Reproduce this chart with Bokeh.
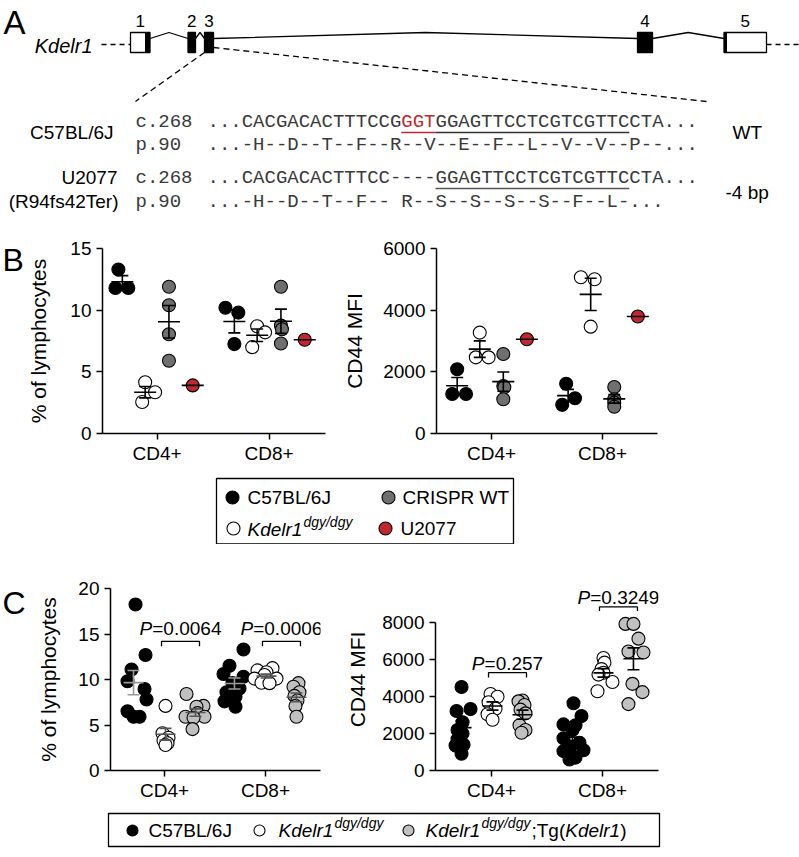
import numpy as np
from bokeh.plotting import figure
from bokeh.models import Range1d, FixedTicker
from bokeh.layouts import column, row
from bokeh.embed import file_html
from bokeh.resources import INLINE
from bokeh.core.properties import value

# ======================= DATA =======================
cell_types = ["CD4+", "CD8+"]

# Panel B, left: % of lymphocytes
b_pct_c57_cd4 = [13.3, 11.8, 11.8]
b_pct_c57_cd8 = [10.2, 9.8, 7.25]
b_pct_ko_cd4 = [4.15, 3.35, 2.55]
b_pct_ko_cd8 = [8.7, 8.2, 7.0]
b_pct_crispr_cd4 = [11.9, 10.4, 8.05, 5.9]
b_pct_crispr_cd8 = [11.9, 8.75, 8.45, 7.3]
b_pct_u2077_cd4 = [3.9]
b_pct_u2077_cd8 = [7.6]

# Panel B, right: CD44 MFI
b_mfi_c57_cd4 = [2085, 1283, 1283]
b_mfi_c57_cd8 = [1615, 1145, 930]
b_mfi_ko_cd4 = [3272, 2470, 2470]
b_mfi_ko_cd8 = [5069, 5005, 3465]
b_mfi_crispr_cd4 = [2580, 1540, 1500, 1110]
b_mfi_crispr_cd8 = [1510, 1110, 1000, 870]
b_mfi_u2077_cd4 = [3058]
b_mfi_u2077_cd8 = [3796]

# Panel C, left: % of lymphocytes
c_pct_c57_cd4 = [18.25, 12.7, 11.1, 9.8, 8.96, 7.8, 6.5, 5.9, 5.9]
c_pct_c57_cd8 = [13.3, 11.5, 10.6, 10.3, 9.6, 9.0, 8.6, 8.1, 7.6, 7.0]
c_pct_ko_cd4 = [7.1, 4.1, 3.6, 3.3, 3.0, 2.8]
c_pct_ko_cd8 = [11.25, 11.0, 10.8, 10.5, 10.1, 10.1, 9.65, 9.6]
c_pct_tg_cd4 = [8.4, 7.1, 7.0, 6.3, 5.9, 5.9, 5.8, 4.55]
c_pct_tg_cd8 = [9.6, 9.2, 8.6, 8.2, 7.7, 7.1, 5.9]

# Panel C, right: CD44 MFI
c_mfi_c57_cd4 = [4530, 3330, 3230, 2620, 2200, 2000, 1700, 1400, 1350, 910]
c_mfi_c57_cd8 = [3650, 2950, 2500, 2450, 2200, 1750, 1500, 1300, 1100, 1050, 700, 600]
c_mfi_ko_cd4 = [4150, 4000, 3700, 3350, 3050, 2750]
c_mfi_ko_cd8 = [6100, 5850, 5500, 5300, 5200, 4800, 4300]
c_mfi_tg_cd4 = [3800, 3750, 3550, 3300, 3100, 2450, 2200, 2050]
c_mfi_tg_cd8 = [7950, 7950, 7150, 6450, 6400, 4700, 4250, 3600]

# P values (Kdelr1 dgy/dgy vs Kdelr1 dgy/dgy;Tg)
c_pct_pvals = ["0.0064", "0.0006"]
c_mfi_pvals = ["0.257", "0.3249"]

# axis ticks
b_pct_ticks = [0, 5, 10, 15]
b_mfi_ticks = [0, 2000, 4000, 6000]
c_pct_ticks = [0, 5, 10, 15, 20]
c_mfi_ticks = [0, 2000, 4000, 6000, 8000]

# sequences (panel A)
seq_wt_pre = "...CACGACACTTTCCG"
seq_wt_del = "GGT"
seq_wt_post = "GGAGTTCCTCGTCGTTCCTA..."
prot_wt = "...-H--D--T--F--R--V--E--F--L--V--V--P--..."
seq_mut = "...CACGACACTTTCC----GGAGTTCCTCGTCGTTCCTA..."
prot_mut = "...-H--D--T--F--    R--S--S--S--S--F--L-..."

# ======================= STYLE / LAYOUT =======================
FONT = "Liberation Sans"
MONO = "Liberation Mono"
BLACK, WHITE, DGREY, RED, LGREY = "#000000", "#ffffff", "#6f6f6f", "#c1272d", "#c0c0c0"

# point spread within a group (screen px)
jit_b_pct = {"c57": ([-4, -7, 6], [-9, 4, 0]), "ko": ([0, 10, -3], [0, 8, -5]),
             "crispr": ([0, 0, 0, 0], [0, 0, 1, 0]), "u": ([0], [0])}
jit_b_mfi = {"c57": ([0, -5, 9], [-2, 7, -6]), "ko": ([0, -4, 9], [-10, 4, 0]),
             "crispr": ([0, 0, 1, 0], [0, 0, 0, 0]), "u": ([0], [0])}
jit_c_pct = {"c57": ([2, 12, -2, -6, 11, 13, -6, 0, 6], [9, -5, -11, 9, -2, 5, -8, 1, -10, 1]),
             "ko": ([0, -3, 3, -2, 2, 0], [6, -9, 0, -2, 10, -12, -5, 3]),
             "tg": ([-9, 8, 1, 2, -10, 9, -2, -3], [2, -3, 3, -2, 1, -1, 0])}
jit_c_mfi = {"c57": ([0, 9, -5, 1, -4, 1, -4, 2, -6, 0], [1, 9, -9, 3, 0, -9, 7, -2, 11, -9, 3, -3]),
             "ko": ([-2, 5, -4, 3, -5, 0], [0, 1, -2, 0, -5, 9, -6]),
             "tg": ([0, -4, 2, -2, 3, -3, 3, -1], [-8, 0, 5, -5, 10, -1, 9, -5])}

AW = {' ': 278, '(': 333, ')': 333, '/': 278, ';': 278, '=': 584, '.': 278, '+': 584, '-': 333,
      '%': 889, 'A': 667, 'B': 667, 'C': 722, 'D': 722, 'F': 611, 'I': 278, 'J': 500, 'K': 667,
      'L': 556, 'M': 833, 'P': 667, 'R': 722, 'S': 667, 'T': 611, 'U': 722, 'W': 944, 'a': 556,
      'b': 556, 'c': 500, 'd': 556, 'e': 556, 'f': 278, 'g': 556, 'h': 556, 'l': 222, 'm': 833,
      'o': 556, 'p': 556, 'r': 333, 's': 500, 't': 278, 'y': 500}


def tw(s, size):
    return sum(AW.get(ch, 556) for ch in s) * size / 1000.0


def txt(p, x, y, s, size=19, font=FONT, style="normal", align="left", color="black",
        baseline="middle", x_offset=0):
    p.text(x=[x], y=[y], text=[s], text_font=value(font), text_font_size=f"{size}px",
           text_font_style=style, text_align=align, text_baseline=baseline,
           text_color=color, x_offset=x_offset)


def canvas(x0, x1, ytop, ybot):
    p = figure(width=x1 - x0, height=ybot - ytop, x_range=Range1d(x0, x1),
               y_range=Range1d(ybot, ytop), output_backend="svg", toolbar_location=None,
               x_axis_location=None, y_axis_location=None,
               min_border_left=0, min_border_right=0, min_border_top=0, min_border_bottom=0)
    p.grid.visible = False
    p.outline_line_color = None
    return p


def make_plot(width, height, bl, br, bt, bb, xr, yr, yticks, ylabel, lab_standoff):
    p = figure(width=width, height=height, x_range=Range1d(*xr), y_range=Range1d(*yr),
               output_backend="svg", toolbar_location=None,
               min_border_left=bl, min_border_right=br, min_border_top=bt, min_border_bottom=bb)
    p.grid.visible = False
    p.outline_line_color = None
    p.xaxis.ticker = FixedTicker(ticks=[1, 2])
    p.xaxis.major_label_overrides = {1: cell_types[0], 2: cell_types[1]}
    p.yaxis.ticker = FixedTicker(ticks=yticks)
    p.yaxis.bounds = (0, yticks[-1])
    for ax in (p.xaxis, p.yaxis):
        ax.axis_line_width = 1.5
        ax.major_tick_line_width = 1.5
        ax.major_tick_out = 6
        ax.major_tick_in = 0
        ax.minor_tick_line_color = None
        ax.major_label_text_font = FONT
        ax.major_label_text_font_size = "19px"
        ax.major_label_text_color = "black"
    p.xaxis.major_label_standoff = 3
    p.yaxis.major_label_standoff = 5
    p.yaxis.axis_label = ylabel
    p.yaxis.axis_label_text_font = FONT
    p.yaxis.axis_label_text_font_size = "21px"
    p.yaxis.axis_label_text_font_style = "normal"
    p.yaxis.axis_label_text_color = "black"
    p.yaxis.axis_label_standoff = lab_standoff
    return p


def draw_groups(p, ppu, offsets, groups, size=13, mean_w=22, cap_w=12, bar_colors=None):
    centers = []
    for gi, (v4, v8, jits, fill) in enumerate(groups):
        for ci, vals in enumerate((v4, v8)):
            xc = (ci + 1) + offsets[gi] / ppu
            xs = [xc + j / ppu for j in jits[ci]]
            p.scatter(xs, vals, size=size, fill_color=fill, line_color="black", line_width=1.1)
            centers.append((xc, vals, gi))
    for xc, vals, gi in centers:
        bc = bar_colors[gi] if bar_colors else "black"
        arr = np.asarray(vals, dtype=float)
        m = arr.mean()
        s = arr.std(ddof=1) / np.sqrt(len(arr)) if len(arr) > 1 else 0.0
        p.scatter([xc], [m], marker="dash", size=mean_w, line_color=bc, line_width=1.6)
        if s > 0:
            p.segment(x0=[xc], y0=[m - s], x1=[xc], y1=[m + s], line_color=bc, line_width=1.6)
            p.scatter([xc, xc], [m - s, m + s], marker="dash", size=cap_w, line_color=bc,
                      line_width=1.6)


def pval(p, x0, x1, ytop, yleg, ytext, ptxt):
    p.multi_line(xs=[[x0, x0, x1, x1]], ys=[[yleg, ytop, ytop, yleg]], line_color="black",
                 line_width=1.3)
    xm = (x0 + x1) / 2
    total = tw("P", 19) + tw("=" + ptxt, 19)
    off = -total / 2 + tw("P", 19)
    txt(p, xm, ytext, "P", style="italic", align="right", x_offset=off)
    txt(p, xm, ytext, "=" + ptxt, align="left", x_offset=off)


# ======================= PANEL A =======================
pa = canvas(0, 799, 0, 220)
txt(pa, 3, 22, "A", 33)
txt(pa, 92, 45, "Kdelr1", 20, style="italic", align="right")

T, Bt = 32, 52
exons = [(130, 149.5), (187.5, 195), (204, 213), (637, 652), (723.5, 766)]
gene_y = 44
pa.segment(x0=[101, 766], y0=[gene_y, gene_y], x1=[130, 799], y1=[gene_y, gene_y],
           line_color="black", line_width=1.3, line_dash="5 4")
chev_y = 38
pa.multi_line(xs=[[exons[i][1], (exons[i][1] + exons[i + 1][0]) / 2, exons[i + 1][0]] for i in range(4)],
              ys=[[chev_y, T, chev_y] for i in range(4)], line_color="black", line_width=1.3)
pa.quad(left=[130, 726.5], right=[144.5, 766], top=[T, T], bottom=[Bt, Bt], fill_color="white",
        line_color=None)
pa.quad(left=[144.5, 187.5, 204, 637, 723.5], right=[149.5, 195, 213, 652, 726.5],
        top=[T] * 5, bottom=[Bt] * 5, fill_color="black", line_color=None)
pa.quad(left=[e[0] for e in exons], right=[e[1] for e in exons], top=[T] * 5, bottom=[Bt] * 5,
        fill_color=None, line_color="black", line_width=1.3)
for i, e in enumerate(exons):
    txt(pa, (e[0] + e[1]) / 2, 20, str(i + 1), 17, align="center")
pa.segment(x0=[204, 213], y0=[Bt, 47], x1=[135, 706], y1=[101, 101], line_color="black",
           line_width=1.3, line_dash="6 4")

cw = 0.6 * 19
sx0 = 207
SEQC = "#3a3a3a"
wt1, wt2 = 121, 144
txt(pa, 135, wt1, "c.268", 19, MONO, color=SEQC)
txt(pa, 135, wt2, "p.90", 19, MONO, color=SEQC)
txt(pa, sx0, wt1, seq_wt_pre, 19, MONO, color=SEQC)
txt(pa, sx0 + len(seq_wt_pre) * cw, wt1, seq_wt_del, 19, MONO, color=RED)
txt(pa, sx0 + (len(seq_wt_pre) + 3) * cw, wt1, seq_wt_post, 19, MONO, color=SEQC)
txt(pa, sx0, wt2, prot_wt, 19, MONO, color=SEQC)
pa.segment(x0=[sx0 + 17 * cw], y0=[wt1 + 11], x1=[sx0 + 20 * cw], y1=[wt1 + 11], line_color=RED, line_width=1.3)
pa.segment(x0=[sx0 + 20 * cw], y0=[wt1 + 11], x1=[sx0 + 37 * cw], y1=[wt1 + 11], line_color="#333333", line_width=1.3)
txt(pa, 113, 132, "C57BL/6J", 19, align="right")
txt(pa, 732, 132, "WT", 19)

mu1, mu2 = 177, 201
txt(pa, 135, mu1, "c.268", 19, MONO, color=SEQC)
txt(pa, 135, mu2, "p.90", 19, MONO, color=SEQC)
txt(pa, sx0, mu1, seq_mut, 19, MONO, color=SEQC)
txt(pa, sx0, mu2, prot_mut, 19, MONO, color=SEQC)
pa.segment(x0=[sx0 + 20 * cw], y0=[mu1 + 11], x1=[sx0 + 37 * cw], y1=[mu1 + 11], line_color="#555555", line_width=1.3)
txt(pa, 117, mu1, "U2077", 19, align="right")
txt(pa, 118, mu2, "(R94fs42Ter)", 19, align="right")
txt(pa, 725, 192, "-4 bp", 19)

# ======================= PANEL B =======================
cb = canvas(0, 24, 220, 470)
txt(cb, 2, 236, "B", 32)

b_off = [-35, -12, 12, 36]
ppu_b = 113.0
b1 = make_plot(316, 250, 76, 15, 28, 34, (0.513, 2.504), (0, 15), b_pct_ticks, "% of lymphocytes", 17)
draw_groups(b1, ppu_b, b_off, [
    (b_pct_c57_cd4, b_pct_c57_cd8, jit_b_pct["c57"], BLACK),
    (b_pct_ko_cd4, b_pct_ko_cd8, jit_b_pct["ko"], WHITE),
    (b_pct_crispr_cd4, b_pct_crispr_cd8, jit_b_pct["crispr"], DGREY),
    (b_pct_u2077_cd4, b_pct_u2077_cd8, jit_b_pct["u"], RED)])

b2 = make_plot(459, 250, 92, 142, 26, 37, (0.504, 2.496), (0, 6000), b_mfi_ticks, "CD44 MFI", 14)
draw_groups(b2, ppu_b, b_off, [
    (b_mfi_c57_cd4, b_mfi_c57_cd8, jit_b_mfi["c57"], BLACK),
    (b_mfi_ko_cd4, b_mfi_ko_cd8, jit_b_mfi["ko"], WHITE),
    (b_mfi_crispr_cd4, b_mfi_crispr_cd8, jit_b_mfi["crispr"], DGREY),
    (b_mfi_u2077_cd4, b_mfi_u2077_cd8, jit_b_mfi["u"], RED)])

# legend B
lb = canvas(0, 799, 470, 544)
lb.quad(left=[216], right=[513], top=[478], bottom=[543.5], fill_color=None, line_color="black",
        line_width=1.3)
lb.scatter([232, 388, 233, 385], [497, 497, 528, 528], size=13,
           fill_color=[BLACK, DGREY, WHITE, RED], line_color="black", line_width=1.1)
txt(lb, 247, 497, "C57BL/6J", 19)
txt(lb, 402, 497, "CRISPR WT", 19)
txt(lb, 247, 529, "Kdelr1", 19, style="italic")
txt(lb, 247 + tw("Kdelr1", 19) + 1, 521, "dgy/dgy", 14, style="italic")
txt(lb, 400, 528, "U2077", 19)

# ======================= PANEL C =======================
cc = canvas(0, 28, 544, 803)
txt(cc, 2, 564, "C", 32)

c1 = make_plot(312, 259, 82, 20, 44, 32, (0.465, 2.545), (0, 20), c_pct_ticks, "% of lymphocytes", 15)
ppu_c1 = 101.0
c1_off = [-31, 1, 31]
draw_groups(c1, ppu_c1, c1_off, [
    (c_pct_c57_cd4, c_pct_c57_cd8, jit_c_pct["c57"], BLACK),
    (c_pct_ko_cd4, c_pct_ko_cd8, jit_c_pct["ko"], WHITE),
    (c_pct_tg_cd4, c_pct_tg_cd8, jit_c_pct["tg"], LGREY)],
    mean_w=20, bar_colors=["#9a9a9a", "#555555", "#555555"])
for ci, pv in enumerate(c_pct_pvals):
    x0 = ci + 1 + (c1_off[1] - 4) / ppu_c1
    x1 = ci + 1 + (c1_off[2] + 4) / ppu_c1
    pval(c1, x0, x1, 14.2, 13.65, 15.65, pv)

c2 = make_plot(459, 259, 95, 141, 0, 32, (0.495, 2.505), (0, 9870), c_mfi_ticks, "CD44 MFI", 10)
ppu_c2 = 111.0
c2_off = [-30, 1, 31]
draw_groups(c2, ppu_c2, c2_off, [
    (c_mfi_c57_cd4, c_mfi_c57_cd8, jit_c_mfi["c57"], BLACK),
    (c_mfi_ko_cd4, c_mfi_ko_cd8, jit_c_mfi["ko"], WHITE),
    (c_mfi_tg_cd4, c_mfi_tg_cd8, jit_c_mfi["tg"], LGREY)], mean_w=20)
c2_brackets = [(5304, 5043, 5783), (8870, 8650, 9391)]
for ci, pv in enumerate(c_mfi_pvals):
    x0 = ci + 1 + (c2_off[1] - 4) / ppu_c2
    x1 = ci + 1 + (c2_off[2] + 4) / ppu_c2
    yt, yl, ytx = c2_brackets[ci]
    pval(c2, x0, x1, yt, yl, ytx, pv)

# legend C
lc = canvas(0, 799, 803, 853)
lc.quad(left=[108], right=[659], top=[813], bottom=[846], fill_color=None, line_color="black",
        line_width=1.3)
lc.scatter([132, 259, 408], [830, 830, 830], size=11, fill_color=[BLACK, WHITE, LGREY],
           line_color="black", line_width=1.1)
ly = 830
txt(lc, 148, ly, "C57BL/6J", 19)
x = 278
txt(lc, x, ly, "Kdelr1", 19, style="italic")
x += tw("Kdelr1", 19) + 1
txt(lc, x, ly - 8, "dgy/dgy", 14, style="italic")
x = 425
txt(lc, x, ly, "Kdelr1", 19, style="italic")
x += tw("Kdelr1", 19) + 1
txt(lc, x, ly - 8, "dgy/dgy", 14, style="italic")
x += tw("dgy/dgy", 14) + 1
txt(lc, x, ly, ";Tg(", 19)
x += tw(";Tg(", 19)
txt(lc, x, ly, "Kdelr1", 19, style="italic")
x += tw("Kdelr1", 19)
txt(lc, x, ly, ")", 19)

layout = column(pa, row(cb, b1, b2), lb, row(cc, c1, c2), lc)
open("out.html", "w").write(file_html(layout, INLINE))
